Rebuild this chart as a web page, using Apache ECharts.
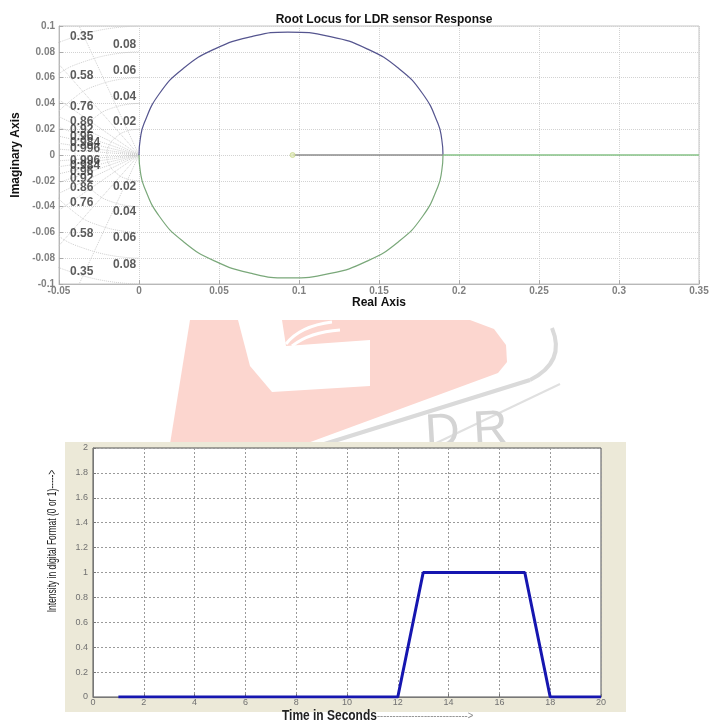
<!DOCTYPE html>
<html>
<head>
<meta charset="utf-8">
<script src="https://cdn.jsdelivr.net/npm/echarts@6/dist/echarts.min.js"></script>
<style>html,body{margin:0;padding:0;background:#fff}#c{width:719px;height:722px}</style>
</head>
<body>
<div id="c"></div>
<script>
// ---------- Root locus (top chart) ----------
const rlTitle = 'Root Locus for LDR sensor Response';
const rlXTicks = { min: -0.05, max: 0.35, step: 0.05 };
const rlYTicks = { min: -0.1, max: 0.1, step: 0.02 };
const upperBranch = [[0,0],[0.0008,0.0124],[0.0032,0.0246],[0.0127,0.0475],[0.0278,0.0672],[0.0475,0.0823],[0.0704,0.0918],[0.093,0.0953],[0.1196,0.0918],[0.1425,0.0823],[0.1622,0.0672],[0.1773,0.0475],[0.1868,0.0246],[0.1892,0.0124],[0.19,0]];
const lowerBranch = [[0,0],[0.0008,-0.0124],[0.0032,-0.0246],[0.0127,-0.0475],[0.0278,-0.0672],[0.0475,-0.0823],[0.0704,-0.0918],[0.093,-0.0953],[0.1196,-0.0918],[0.1425,-0.0823],[0.1622,-0.0672],[0.1773,-0.0475],[0.1868,-0.0246],[0.1892,-0.0124],[0.19,0]];
const realBranchGray = [[0.096,0],[0.19,0]];
const realBranchGreen = [[0.19,0],[0.35,0]];
const poles = [[0.096,0]];
// damping-ratio grid
const dampingNames = ['0.35','0.58','0.76','0.86','0.92','0.96','0.984','0.996'];
const dampingRayEnds = [[-0.0374,0.1],[-0.05,0.0702],[-0.05,0.0428],[-0.05,0.0297],[-0.05,0.0213],[-0.05,0.0146],[-0.05,0.00905],[-0.05,0.00449]];
const dampingLabelX = -0.0431;
const dampingLabelY = [0.0915,0.0615,0.0372,0.0262,0.0198,0.0142,0.0095,0.0052];
const dampingLabelYLow = [-0.0907,-0.0612,-0.0372,-0.0256,-0.0182,-0.0132,-0.0082,-0.0042];
// natural-frequency grid
const wnNames = ['0.02','0.04','0.06','0.08'];
const wnLabelX = -0.0163;
const wnLabelY = [0.0256,0.045,0.0651,0.0853];
const wnLabelYLow = [-0.0248,-0.0442,-0.0643,-0.0853];
const wnArcs = [
  [[0,0.02],[-0.0077,0.0185],[-0.0141,0.0141],[-0.0185,0.0077],[-0.02,0],[-0.0185,-0.0077],[-0.0141,-0.0141],[-0.0077,-0.0185],[0,-0.02]],
  [[0,0.04],[-0.0153,0.037],[-0.0283,0.0283],[-0.037,0.0153],[-0.04,0],[-0.037,-0.0153],[-0.0283,-0.0283],[-0.0153,-0.037],[0,-0.04]],
  [[0,0.06],[-0.023,0.0554],[-0.0424,0.0424],[-0.0554,0.023],[-0.06,0],[-0.0554,-0.023],[-0.0424,-0.0424],[-0.023,-0.0554],[0,-0.06]],
  [[0,0.08],[-0.0306,0.0739],[-0.0566,0.0566],[-0.0739,0.0306],[-0.08,0],[-0.0739,-0.0306],[-0.0566,-0.0566],[-0.0306,-0.0739],[0,-0.08]],
  [[0,0.1],[-0.0383,0.0924],[-0.0707,0.0707],[-0.0924,0.0383],[-0.1,0],[-0.0924,-0.0383],[-0.0707,-0.0707],[-0.0383,-0.0924],[0,-0.1]]
];

// ---------- Digital response (bottom chart) ----------
const timeSec = [1, 12, 13, 17, 18, 20];
const intensity = [0, 0, 1, 1, 0, 0];
const respXTicks = { min: 0, max: 20, step: 2 };
const respYTicks = { min: 0, max: 2, step: 0.2 };
const respXName = 'Time in Seconds';
const respXArrow = '----------------------------->';
const respYName = 'Intensity in digital Format (0 or 1)----->';

const F = 'Liberation Sans, Arial, sans-serif';
const FN = 'Liberation Sans Narrow, Liberation Sans, sans-serif';
const trim = v => String(parseFloat((+v).toFixed(4)));

const chart = echarts.init(document.getElementById('c'), null, { renderer: 'canvas' });

const sgridSeries = [];
dampingRayEnds.forEach(p => {
  [[p[0], p[1]], [p[0], -p[1]]].forEach(e => {
    sgridSeries.push({ type: 'line', xAxisIndex: 0, yAxisIndex: 0, data: [[0,0], e], symbol: 'none', silent: true,
      lineStyle: { color: '#cfcfcf', width: 1, type: 'dotted' }, z: 1 });
  });
});
wnArcs.forEach(arc => {
  sgridSeries.push({ type: 'line', xAxisIndex: 0, yAxisIndex: 0, data: arc, smooth: true, symbol: 'none', silent: true,
    lineStyle: { color: '#cfcfcf', width: 1, type: 'dotted' }, z: 1 });
});

const labelData = [];
dampingNames.forEach((n, i) => {
  labelData.push({ name: n, value: [dampingLabelX, dampingLabelY[i]] });
  labelData.push({ name: n, value: [dampingLabelX, dampingLabelYLow[i]] });
});
wnNames.forEach((n, i) => {
  labelData.push({ name: n, value: [wnLabelX, wnLabelY[i]] });
  labelData.push({ name: n, value: [wnLabelX, wnLabelYLow[i]] });
});

const option = {
  animation: false,
  backgroundColor: '#ffffff',
  title: {
    text: rlTitle, left: 379, top: 9, textAlign: 'center',
    textStyle: { fontFamily: F, fontSize: 12, fontWeight: 'bold', color: '#111' }
  },
  graphic: [
    // faint watermark
    { type: 'polygon', z: -6, silent: true,
      shape: { points: [[190,320],[470,320],[494,329],[506,345],[507,362],[498,373],[305,444],[170,444]] },
      style: { fill: '#fcd6cf' } },
    { type: 'polygon', z: -6, silent: true,
      shape: { points: [[238,320],[282,320],[286,346],[370,340],[370,386],[272,392],[250,366]] },
      style: { fill: '#ffffff' } },
    { type: 'bezierCurve', z: -6, silent: true,
      shape: { x1: 286, y1: 344, cpx1: 300, cpy1: 326, x2: 332, y2: 322 },
      style: { stroke: '#ffffff', lineWidth: 3, fill: 'none' } },
    { type: 'bezierCurve', z: -6, silent: true,
      shape: { x1: 292, y1: 346, cpx1: 310, cpy1: 332, x2: 340, y2: 330 },
      style: { stroke: '#ffffff', lineWidth: 3, fill: 'none' } },
    { type: 'bezierCurve', z: -6, silent: true,
      shape: { x1: 552, y1: 328, cpx1: 566, cpy1: 362, x2: 530, y2: 380 },
      style: { stroke: '#dadada', lineWidth: 4, fill: 'none' } },
    { type: 'line', z: -6, silent: true,
      shape: { x1: 530, y1: 380, x2: 318, y2: 446 },
      style: { stroke: '#dadada', lineWidth: 4 } },
    { type: 'line', z: -6, silent: true,
      shape: { x1: 560, y1: 384, x2: 430, y2: 446 },
      style: { stroke: '#e0e0e0', lineWidth: 2 } },
    { type: 'text', z: -6, silent: true, x: 468, y: 456, rotation: 0.06,
      style: { text: 'D R', fill: '#d4d4d4', font: '48px Liberation Sans, sans-serif', align: 'center', verticalAlign: 'bottom' } },
    // figure background of the bottom chart
    { type: 'rect', z: -5, silent: true, shape: { x: 65, y: 442, width: 561, height: 270 }, style: { fill: '#ece9d8' } },
    // bottom axis names
    { type: 'text', z: 5, silent: true, x: 282, y: 716, scaleX: 0.855,
      style: { text: '{a|' + respXName + '}{b|' + respXArrow + '}', verticalAlign: 'middle', align: 'left',
        rich: { a: { fontFamily: FN, fontSize: 14, fontWeight: 'bold', fill: '#222' },
                b: { fontFamily: FN, fontSize: 11, fill: '#888' } } } },
    { type: 'text', z: 5, silent: true, x: 52, y: 541, rotation: Math.PI / 2, scaleX: 0.65,
      style: { text: respYName, fontFamily: FN, fontSize: 13, fill: '#222', align: 'center', verticalAlign: 'middle' } }
  ],
  grid: [
    { left: 59, right: 20, top: 26, bottom: 438, show: true, borderColor: '#c4c4c4', borderWidth: 1, backgroundColor: 'transparent' },
    { left: 93, right: 118, top: 448, bottom: 25, show: true, borderColor: '#555', borderWidth: 1, backgroundColor: '#ffffff' }
  ],
  xAxis: [
    { type: 'value', gridIndex: 0, min: rlXTicks.min, max: rlXTicks.max, interval: rlXTicks.step,
      name: 'Real Axis', nameLocation: 'middle', nameGap: 12,
      nameTextStyle: { fontFamily: F, fontSize: 12, fontWeight: 'bold', color: '#111' },
      axisLine: { onZero: false, lineStyle: { color: '#b8b8b8' } },
      axisTick: { inside: true, length: 4, lineStyle: { color: '#aaa' } },
      axisLabel: { fontFamily: F, fontSize: 10, fontWeight: 'bold', color: '#808080', margin: 2, formatter: trim },
      splitLine: { show: true, lineStyle: { color: '#d2d2d2', type: 'dotted', width: 1 } } },
    { type: 'value', gridIndex: 1, min: respXTicks.min, max: respXTicks.max, interval: respXTicks.step,
      axisLine: { onZero: false, lineStyle: { color: '#777' } },
      axisTick: { inside: true, length: 3, lineStyle: { color: '#777' } },
      axisLabel: { fontFamily: F, fontSize: 9, color: '#707070', margin: 1, formatter: trim },
      splitLine: { show: true, lineStyle: { color: '#9a9a9a', type: [2, 2], width: 1 } } }
  ],
  yAxis: [
    { type: 'value', gridIndex: 0, min: rlYTicks.min, max: rlYTicks.max, interval: rlYTicks.step,
      name: 'Imaginary Axis', nameLocation: 'middle', nameGap: 28,
      nameTextStyle: { fontFamily: F, fontSize: 12, fontWeight: 'bold', color: '#111' },
      axisLine: { onZero: false, lineStyle: { color: '#b8b8b8' } },
      axisTick: { inside: true, length: 4, lineStyle: { color: '#aaa' } },
      axisLabel: { fontFamily: F, fontSize: 10, fontWeight: 'bold', color: '#808080', margin: 4, formatter: trim },
      splitLine: { show: true, lineStyle: { color: '#d2d2d2', type: 'dotted', width: 1 } } },
    { type: 'value', gridIndex: 1, min: respYTicks.min, max: respYTicks.max, interval: respYTicks.step,
      axisLine: { onZero: false, lineStyle: { color: '#777' } },
      axisTick: { inside: true, length: 3, lineStyle: { color: '#777' } },
      axisLabel: { fontFamily: F, fontSize: 9, color: '#707070', margin: 5, formatter: trim },
      splitLine: { show: true, lineStyle: { color: '#9a9a9a', type: [2, 2], width: 1 } } }
  ],
  series: [
    ...sgridSeries,
    { type: 'line', xAxisIndex: 0, yAxisIndex: 0, data: upperBranch, smooth: true, symbol: 'none',
      lineStyle: { color: '#55558f', width: 1.2 }, z: 3 },
    { type: 'line', xAxisIndex: 0, yAxisIndex: 0, data: lowerBranch, smooth: true, symbol: 'none',
      lineStyle: { color: '#7aa87a', width: 1.2 }, z: 3 },
    { type: 'line', xAxisIndex: 0, yAxisIndex: 0, data: realBranchGray, symbol: 'none',
      lineStyle: { color: '#8c8c8c', width: 1.6 }, z: 3 },
    { type: 'line', xAxisIndex: 0, yAxisIndex: 0, data: realBranchGreen, symbol: 'none',
      lineStyle: { color: '#86c286', width: 1.6 }, z: 3 },
    { type: 'scatter', xAxisIndex: 0, yAxisIndex: 0, data: poles, symbolSize: 5,
      itemStyle: { color: '#e2ebbb', borderColor: '#c8d890', borderWidth: 1 }, z: 4 },
    { type: 'scatter', xAxisIndex: 0, yAxisIndex: 0, data: labelData, symbolSize: 0, silent: true, z: 5,
      label: { show: true, position: 'inside', align: 'left', verticalAlign: 'middle', formatter: p => p.name,
        fontFamily: F, fontSize: 12, fontWeight: 'bold', color: '#333' } },
    { type: 'line', xAxisIndex: 1, yAxisIndex: 1, data: timeSec.map((t, i) => [t, intensity[i]]), symbol: 'none',
      lineStyle: { color: '#1616b0', width: 3 }, z: 3 }
  ]
};
chart.setOption(option);
</script>
</body>
</html>
